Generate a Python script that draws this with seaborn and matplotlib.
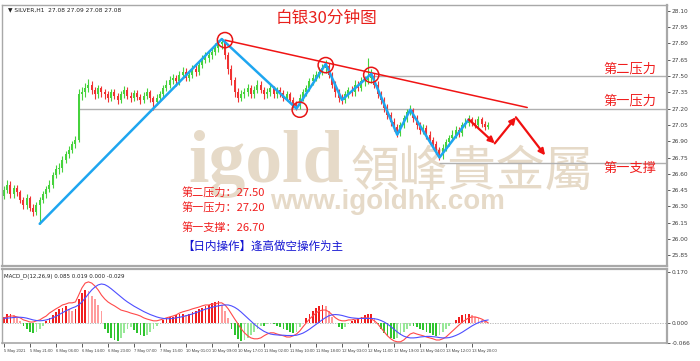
import matplotlib
matplotlib.use("Agg")
import matplotlib.pyplot as plt
import seaborn as sns
import pandas as pd
import numpy as np

sns.set_style("white")
plt.rcParams['font.family'] = ['Noto Sans CJK SC', 'DejaVu Sans']

# ---------------- data ----------------
first_open = 26.40
close = [26.45, 26.50, 26.41, 26.47, 26.43, 26.36, 26.31, 26.38, 26.29, 26.25,
         26.31, 26.36, 26.41, 26.46, 26.50, 26.59, 26.64, 26.65, 26.73, 26.78,
         26.82, 26.87, 26.91, 27.33, 27.35, 27.39, 27.42, 27.37, 27.33, 27.39,
         27.35, 27.33, 27.30, 27.35, 27.32, 27.28, 27.33, 27.37, 27.32, 27.30,
         27.34, 27.31, 27.28, 27.32, 27.35, 27.30, 27.26, 27.30, 27.33, 27.39,
         27.42, 27.46, 27.48, 27.45, 27.51, 27.54, 27.48, 27.51, 27.56, 27.54,
         27.60, 27.65, 27.67, 27.69, 27.72, 27.76, 27.79, 27.81, 27.69, 27.56,
         27.46, 27.35, 27.30, 27.33, 27.35, 27.39, 27.33, 27.37, 27.42, 27.37,
         27.33, 27.35, 27.39, 27.33, 27.37, 27.34, 27.30, 27.33, 27.28, 27.24,
         27.22, 27.30, 27.35, 27.39, 27.45, 27.48, 27.51, 27.54, 27.57, 27.59,
         27.51, 27.42, 27.35, 27.30, 27.28, 27.33, 27.37, 27.35, 27.42, 27.39,
         27.45, 27.46, 27.48, 27.50, 27.42, 27.33, 27.28, 27.21, 27.14, 27.08,
         27.03, 26.98, 27.05, 27.11, 27.17, 27.19, 27.11, 27.05, 27.00, 27.02,
         26.96, 26.91, 26.87, 26.82, 26.77, 26.84, 26.89, 26.93, 26.96, 27.00,
         26.98, 27.05, 27.07, 27.10, 27.07, 27.05, 27.10, 27.06, 27.03, 27.05]
high = [26.49, 26.54, 26.53, 26.50, 26.50, 26.45, 26.39, 26.41, 26.40, 26.32,
        26.34, 26.39, 26.44, 26.49, 26.54, 26.62, 26.68, 26.70, 26.76, 26.81,
        26.86, 26.90, 26.95, 27.38, 27.40, 27.44, 27.47, 27.45, 27.40, 27.42,
        27.41, 27.38, 27.36, 27.38, 27.38, 27.34, 27.36, 27.41, 27.40, 27.35,
        27.37, 27.37, 27.33, 27.35, 27.39, 27.37, 27.32, 27.33, 27.36, 27.42,
        27.46, 27.50, 27.52, 27.51, 27.55, 27.58, 27.57, 27.55, 27.60, 27.60,
        27.64, 27.69, 27.72, 27.74, 27.76, 27.80, 27.83, 27.85, 27.83, 27.72,
        27.60, 27.49, 27.39, 27.37, 27.39, 27.43, 27.42, 27.41, 27.46, 27.45,
        27.40, 27.39, 27.43, 27.41, 27.40, 27.40, 27.37, 27.36, 27.35, 27.31,
        27.27, 27.33, 27.38, 27.42, 27.48, 27.52, 27.55, 27.58, 27.61, 27.65,
        27.62, 27.54, 27.45, 27.38, 27.33, 27.36, 27.40, 27.41, 27.46, 27.45,
        27.49, 27.50, 27.67, 27.56, 27.53, 27.45, 27.36, 27.31, 27.24, 27.17,
        27.11, 27.06, 27.08, 27.14, 27.20, 27.23, 27.21, 27.14, 27.08, 27.06,
        27.05, 26.99, 26.94, 26.90, 26.85, 26.87, 26.92, 26.96, 27.00, 27.04,
        27.03, 27.08, 27.11, 27.14, 27.12, 27.10, 27.13, 27.12, 27.09, 27.08]
low = [26.37, 26.42, 26.38, 26.38, 26.40, 26.33, 26.28, 26.28, 26.26, 26.21,
       26.22, 26.14, 26.33, 26.38, 26.43, 26.47, 26.56, 26.60, 26.62, 26.70,
       26.75, 26.79, 26.84, 26.89, 27.28, 27.31, 27.35, 27.33, 27.29, 27.30,
       27.31, 27.29, 27.26, 27.27, 27.29, 27.24, 27.25, 27.30, 27.29, 27.26,
       27.27, 27.28, 27.24, 27.25, 27.29, 27.26, 27.19, 27.23, 27.27, 27.30,
       27.36, 27.39, 27.43, 27.41, 27.42, 27.48, 27.45, 27.45, 27.48, 27.50,
       27.51, 27.57, 27.62, 27.63, 27.66, 27.69, 27.72, 27.75, 27.66, 27.52,
       27.42, 27.31, 27.26, 27.27, 27.30, 27.32, 27.30, 27.30, 27.34, 27.34,
       27.29, 27.30, 27.32, 27.30, 27.30, 27.31, 27.27, 27.27, 27.25, 27.21,
       27.19, 27.20, 27.27, 27.32, 27.36, 27.42, 27.45, 27.48, 27.51, 27.53,
       27.48, 27.39, 27.31, 27.26, 27.24, 27.25, 27.30, 27.32, 27.32, 27.36,
       27.36, 27.41, 27.43, 27.44, 27.39, 27.30, 27.24, 27.17, 27.10, 27.04,
       26.99, 26.94, 26.95, 27.02, 27.08, 27.14, 27.08, 27.01, 26.97, 26.97,
       26.92, 26.87, 26.83, 26.78, 26.73, 26.74, 26.81, 26.86, 26.90, 26.93,
       26.94, 26.95, 27.02, 27.04, 27.04, 27.02, 27.02, 27.03, 27.00, 27.01]

macd_hist = [0.020, 0.030, 0.030, 0.025, 0.015, 0.005,
             -0.010, -0.020, -0.030, -0.035, -0.030, -0.020, -0.010,
             0.005, 0.015, 0.025, 0.035, 0.045, 0.050, 0.055, 0.045, 0.040, 0.045,
             0.080, 0.100, 0.110, 0.105, 0.090, 0.080, 0.060, 0.040,
             -0.020, -0.035, -0.050, -0.058, -0.060, -0.050, -0.035,
             -0.020, -0.015, -0.025, -0.035, -0.040,
             -0.045, -0.040, -0.030, -0.020,
             -0.010, 0.000, 0.010, 0.015, 0.020, 0.020,
             0.025, 0.030, 0.030, 0.025, 0.030, 0.035, 0.040, 0.045, 0.050, 0.055,
             0.060, 0.065, 0.070, 0.072,
             0.060, 0.040, 0.015,
             -0.020, -0.040, -0.055, -0.060, -0.058, -0.050, -0.040,
             -0.030, -0.020, -0.010, -0.010, -0.005, 0.000, -0.005, -0.010, -0.015,
             -0.020, -0.025, -0.030, -0.035,
             -0.030, -0.015, 0.000, 0.015, 0.030, 0.040, 0.050, 0.055, 0.060, 0.058,
             0.040, 0.020, 0.000, -0.015, -0.020,
             -0.015, -0.005, 0.005, 0.010, 0.015, 0.020, 0.025, 0.030, 0.030,
             0.015, -0.005, -0.020, -0.035, -0.045, -0.050, -0.052, -0.050, -0.040,
             -0.030, -0.020, -0.010, -0.010, -0.015,
             -0.020, -0.025, -0.030, -0.035, -0.040, -0.042, -0.040, -0.030,
             -0.020, -0.010, 0.000, 0.010, 0.020, 0.025, 0.030, 0.030,
             0.025, 0.020, 0.015, 0.010, 0.005, 0.000]
macd_main = [0.017, 0.020, 0.023, 0.023, 0.020, 0.017, 0.010, 0.007, 0.003, 0.003, 0.007,
             0.010, 0.017, 0.023, 0.033, 0.040, 0.047, 0.053, 0.060, 0.063, 0.067, 0.067, 0.070,
             0.093, 0.117, 0.133, 0.137, 0.133, 0.123, 0.110, 0.093,
             0.080, 0.070, 0.063, 0.057, 0.050, 0.043, 0.040, 0.037, 0.033, 0.030,
             0.027, 0.023, 0.017, 0.013, 0.010, 0.007, 0.007, 0.010, 0.013, 0.017, 0.020, 0.023,
             0.027, 0.033, 0.037, 0.040, 0.043, 0.047, 0.050, 0.053, 0.057, 0.060, 0.060, 0.063,
             0.063, 0.067, 0.067,
             0.060, 0.047, 0.030, 0.013, -0.003, -0.020, -0.033, -0.043, -0.050, -0.053, -0.053,
             -0.050, -0.043, -0.037, -0.033, -0.033, -0.037, -0.040, -0.043, -0.047, -0.047,
             -0.043, -0.037,
             -0.027, -0.013, 0.000, 0.013, 0.023, 0.033, 0.040, 0.043, 0.043,
             0.037, 0.027, 0.017, 0.010, 0.007, 0.007, 0.010, 0.010, 0.013, 0.013, 0.017, 0.017,
             0.017, 0.013,
             0.007, -0.003, -0.017, -0.030, -0.043, -0.053, -0.060, -0.063, -0.063, -0.057,
             -0.047, -0.037,
             -0.033, -0.037, -0.040, -0.043, -0.047, -0.050, -0.053, -0.057, -0.057, -0.053,
             -0.047, -0.037,
             -0.027, -0.017, -0.007, 0.003, 0.010, 0.017, 0.020, 0.020, 0.017, 0.013, 0.007, 0.000]
macd_signal = [0.015, 0.016, 0.017, 0.018, 0.019, 0.019, 0.018, 0.016, 0.013, 0.010, 0.008,
               0.007, 0.008, 0.010, 0.013, 0.017, 0.022, 0.028, 0.034, 0.040, 0.045, 0.050, 0.054,
               0.060, 0.070, 0.083, 0.097, 0.110, 0.120, 0.127, 0.130,
               0.128, 0.122, 0.114, 0.105, 0.096, 0.087, 0.078, 0.070, 0.063, 0.056,
               0.050, 0.044, 0.038, 0.033, 0.028, 0.024, 0.020, 0.017, 0.015, 0.014, 0.014, 0.015,
               0.017, 0.019, 0.021, 0.024, 0.027, 0.030, 0.034, 0.038, 0.042, 0.046, 0.049, 0.052,
               0.055, 0.057, 0.059,
               0.060, 0.060, 0.057, 0.052, 0.045, 0.036, 0.026, 0.016, 0.006, -0.004, -0.013,
               -0.021, -0.028, -0.033, -0.037, -0.039, -0.040, -0.041, -0.041, -0.042, -0.042,
               -0.042, -0.041,
               -0.038, -0.034, -0.028, -0.021, -0.013, -0.005, 0.003, 0.011, 0.018,
               0.024, 0.027, 0.028, 0.027, 0.025, 0.022, 0.019, 0.017, 0.016, 0.015, 0.015, 0.015,
               0.015, 0.015,
               0.014, 0.012, 0.008, 0.003, -0.004, -0.012, -0.021, -0.030, -0.038, -0.044,
               -0.048, -0.050,
               -0.050, -0.049, -0.047, -0.046, -0.045, -0.045, -0.046, -0.047, -0.049, -0.050,
               -0.050, -0.049,
               -0.046, -0.042, -0.037, -0.031, -0.024, -0.017, -0.010, -0.004, 0.001, 0.005,
               0.008, 0.010]

price_ticks = [25.85, 26.00, 26.15, 26.30, 26.45, 26.60, 26.75, 26.90, 27.05,
               27.20, 27.35, 27.50, 27.65, 27.80, 27.95, 28.10]
time_tick_pos = [0, 8, 16, 24, 32, 40, 48, 56, 64, 72, 80, 88, 96, 104, 112,
                 120, 128, 136, 144]
time_tick_labels = ["5 May 2021", "5 May 21:00", "6 May 06:00", "6 May 14:00",
                    "6 May 23:00", "7 May 07:00", "7 May 15:00", "10 May 01:00",
                    "10 May 09:00", "10 May 17:00", "11 May 02:00", "11 May 10:00",
                    "11 May 18:00", "12 May 03:00", "12 May 11:00", "12 May 19:00",
                    "13 May 04:00", "13 May 12:00", "13 May 20:00"]

# analysis drawings (bar index, price)
zigzag_bar = [11, 67, 90, 99, 104, 113, 121, 125, 134, 143]
zigzag_price = [26.14, 27.84, 27.20, 27.61, 27.28, 27.52, 26.96, 27.19, 26.75, 27.10]
forecast_bar = [143, 151, 157.5, 166.5]
forecast_price = [27.10, 26.88, 27.12, 26.77]
trend_bar = [68, 161]
trend_price = [27.83, 27.21]
circle_bar = [68, 91, 99, 113]
circle_price = [27.83, 27.19, 27.60, 27.51]
level_names = ["第二压力", "第一压力", "第一支撑"]
level_values = [27.50, 27.20, 26.70]
level_start_bar = [113, 23, 134]

# ---------------- figure ----------------
W, H = 700, 361
fig = plt.figure(figsize=(7.0, 3.61), dpi=100)
fig.patch.set_facecolor("white")

def fx(px):
    return px / W

def fy(py):
    return 1 - py / H

ax = fig.add_axes([fx(2), fy(266), fx(667) - fx(2), fy(5) - fy(266)])
ax2 = fig.add_axes([fx(2), fy(343), fx(667) - fx(2), fy(269) - fy(343)])

XMIN, XMAX = -0.6, 204
GRAY = "#A8A8A8"

# watermark (behind candles)
wm = "#E6DAC8"
ax.text(fx(188), fy(182), "igold", transform=fig.transFigure, family="Liberation Serif",
        weight="bold", fontsize=53, color=wm, va="baseline", ha="left", zorder=0.5)
ax.text(fx(350), fy(186), "領峰貴金屬", transform=fig.transFigure,
        family=["Noto Sans CJK TC", "DejaVu Sans"], fontsize=35, color=wm,
        va="baseline", ha="left", zorder=0.5)
ax.text(fx(388), fy(202), "www.igoldhk.com", transform=fig.transFigure,
        family="Liberation Sans", weight="bold", fontsize=20, color=wm,
        va="center", ha="center", zorder=0.5)

# candles
o = np.array([first_open] + close[:-1])
c = np.array(close)
h = np.array(high)
l = np.array(low)
idx = np.arange(len(c))
bull = c >= o
col = np.where(bull, "#46D23C", "#F03232")
ax.vlines(idx, l, h, colors=col, lw=0.8, zorder=2)
body_lo = np.minimum(o, c)
body_h = np.maximum(np.abs(c - o), 0.006)
ax.bar(idx, body_h, bottom=body_lo, width=0.62, color=col, linewidth=0, zorder=2)

# horizontal levels
for name, val, sb in zip(level_names, level_values, level_start_bar):
    ax.hlines(val, sb, XMAX, colors="#B0B0B0", lw=1.0, zorder=1.5)

# trend line
ax.plot(trend_bar, trend_price, color="#F01414", lw=1.1, zorder=3)

# blue zigzag
zz = pd.DataFrame({"bar": zigzag_bar, "price": zigzag_price})
sns.lineplot(data=zz, x="bar", y="price", sort=False, color="#1EA6F0", lw=1.8,
             ax=ax, zorder=3)

# red forecast arrows
for i in range(len(forecast_bar) - 1):
    ax.annotate("", xy=(forecast_bar[i + 1], forecast_price[i + 1]),
                xytext=(forecast_bar[i], forecast_price[i]),
                arrowprops=dict(arrowstyle="-|>", color="#F01010", lw=1.6,
                                mutation_scale=9, shrinkA=0, shrinkB=0),
                zorder=4)

# circles
ax.scatter(circle_bar, circle_price, s=120, facecolors="none", edgecolors="#E81414",
           linewidths=1.1, zorder=4)

ax.set_xlim(XMIN, XMAX)
ax.set_ylim(25.752, 28.153)
ax.yaxis.tick_right()
ax.set_yticks(price_ticks)
ax.set_yticklabels([f"{v:.2f}" for v in price_ticks])
ax.tick_params(axis="y", labelsize=4.2, length=2.5, width=0.6, pad=1,
               colors="#404040", direction="out", right=True)
ax.set_xticks([])
ax.set_xlabel("")
ax.set_ylabel("")
for s in ax.spines.values():
    s.set_color(GRAY)
    s.set_linewidth(1.0)
ax.spines["bottom"].set_linewidth(1.6)
ax.spines["right"].set_linewidth(1.6)

# ---------------- MACD panel ----------------
hist = np.array(macd_hist)
prev = np.concatenate([[hist[0]], hist[:-1]])
hcol = np.where(hist >= 0,
                np.where(hist >= prev, "#F01E1E", "#FF9C9C"),
                np.where(hist <= prev, "#2EC42E", "#98E898"))
ax2.bar(idx, hist, width=0.55, color=hcol, linewidth=0, zorder=2)
md = pd.DataFrame({"bar": idx, "main": macd_main, "signal": macd_signal})
sns.lineplot(data=md, x="bar", y="main", color="#FF4A4A", lw=0.8, ax=ax2, zorder=3)
sns.lineplot(data=md, x="bar", y="signal", color="#4E4EFF", lw=0.8, ax=ax2, zorder=3)
ax2.axhline(0, color="#B0B0B0", lw=0.6, ls=(0, (1.5, 1.5)), zorder=1)
ax2.set_xlim(XMIN, XMAX)
ax2.set_ylim(-0.067, 0.180)
ax2.yaxis.tick_right()
ax2.set_yticks([0.170, 0.0, -0.066])
ax2.set_yticklabels(["0.170", "0.000", "-0.066"])
ax2.tick_params(axis="y", labelsize=4.2, length=2.5, width=0.6, pad=1,
                colors="#404040", direction="out", right=True)
ax2.set_xticks(time_tick_pos)
ax2.set_xticklabels(time_tick_labels, ha="left")
ax2.tick_params(axis="x", labelsize=3.0, length=3, width=0.6, pad=1.5,
                colors="#404040", direction="out", bottom=True)
for lab in ax2.get_xticklabels():
    lab.set_family("Liberation Sans")
for lab in ax2.get_yticklabels() + ax.get_yticklabels():
    lab.set_family("DejaVu Sans")
ax2.set_xlabel("")
ax2.set_ylabel("")
for s in ax2.spines.values():
    s.set_color(GRAY)
    s.set_linewidth(1.0)
ax2.spines["top"].set_linewidth(1.6)
ax2.spines["right"].set_linewidth(1.6)
ax2.spines["bottom"].set_linewidth(1.2)

# ---------------- texts ----------------
fig.text(fx(8), fy(10), "▼ SILVER,H1  27.08 27.09 27.08 27.08", fontsize=4.2,
         family="DejaVu Sans", color="#202020", va="center", ha="left")
fig.text(fx(4), fy(276), "MACD_D(12,26,9) 0.085 0.019 0.000 -0.029", fontsize=4.0,
         family="DejaVu Sans", color="#202020", va="center", ha="left")
fig.text(fx(327), fy(18), "白银30分钟图", color="#E8201C", fontsize=12,
         ha="center", va="center")

lvl_y = [69, 101, 168]
for name, yy in zip(level_names, lvl_y):
    fig.text(fx(630), fy(yy), name, color="#F01E1E", fontsize=9.5, ha="center",
             va="center")

red_txt = "#F01E1E"
fig.text(fx(182), fy(193), "第二压力：27.50", color=red_txt, fontsize=8, va="center")
fig.text(fx(182), fy(208), "第一压力：27.20", color=red_txt, fontsize=8, va="center")
fig.text(fx(182), fy(228), "第一支撑：26.70", color=red_txt, fontsize=8, va="center")
fig.text(fx(182), fy(246), "【日内操作】逢高做空操作为主", color="#1414D2", fontsize=8.3,
         va="center")

fig.savefig("out.png", dpi=100, facecolor="white")
